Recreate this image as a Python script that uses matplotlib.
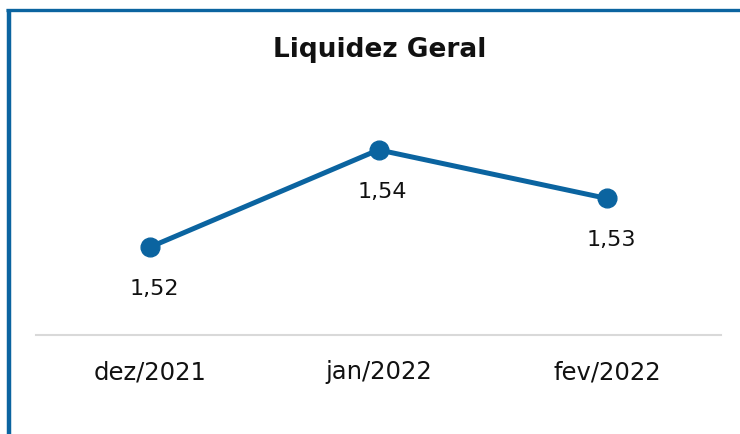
import matplotlib.pyplot as plt
from matplotlib.lines import Line2D

categories = ["dez/2021", "jan/2022", "fev/2022"]
values = [1.52, 1.54, 1.53]
labels = ["1,52", "1,54", "1,53"]

blue = "#0B64A0"

fig = plt.figure(figsize=(7.4, 4.34), dpi=100)
ax = fig.add_axes([36 / 740, 99 / 434, 685 / 740, 225 / 434])

x = range(len(categories))
ax.plot(x, values, color=blue, linewidth=3.6, marker="o", markersize=13.5,
        solid_capstyle="round")

for i, (v, t) in enumerate(zip(values, labels)):
    ax.annotate(t, (i, v), xytext=(3, -30), textcoords="offset points",
                ha="center", va="center", fontsize=16, color="#111111")

ax.set_xlim(-0.5, 2.5)
ax.set_ylim(1.5019, 1.5482)
ax.set_xticks(list(x))
ax.set_xticklabels(categories, fontsize=17.5, color="#111111")
ax.tick_params(axis="x", length=0, pad=18)
ax.set_yticks([])
for s in ["top", "right", "left"]:
    ax.spines[s].set_visible(False)
ax.spines["bottom"].set_color("#D9D9D9")
ax.spines["bottom"].set_linewidth(1.5)

fig.text(380 / 740, 1 - 50 / 434, "Liquidez Geral", ha="center", va="center",
         fontsize=19, fontweight="bold", color="#111111")

# frame border (top and left edges)
fig.add_artist(Line2D([6 / 740, 1], [1 - 10.3 / 434, 1 - 10.3 / 434],
                      transform=fig.transFigure, color=blue, linewidth=2.4,
                      solid_capstyle="butt"))
fig.add_artist(Line2D([8.5 / 740, 8.5 / 740], [0, 1 - 9 / 434],
                      transform=fig.transFigure, color=blue, linewidth=3.2,
                      solid_capstyle="butt"))

fig.savefig("out.png", dpi=100)
